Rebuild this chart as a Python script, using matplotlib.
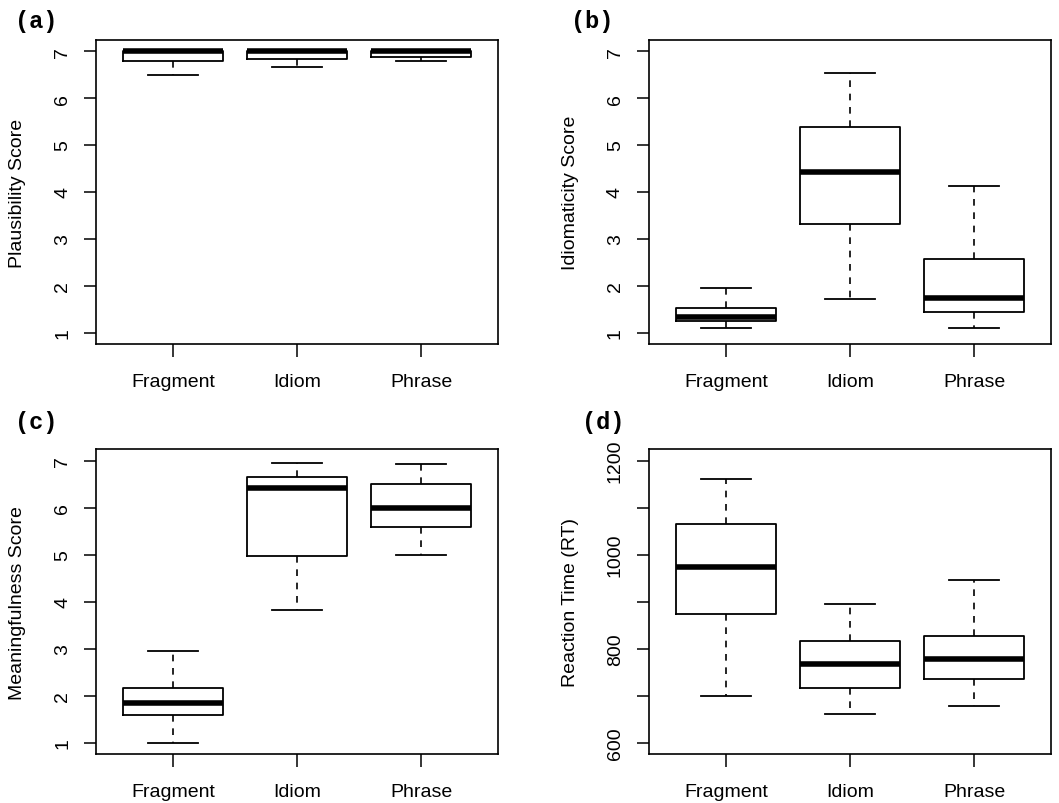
import matplotlib
matplotlib.use("Agg")
import matplotlib.pyplot as plt

plt.rcParams["font.family"] = ["Liberation Sans", "DejaVu Sans"]

groups = ["Fragment", "Idiom", "Phrase"]

# box statistics: lower whisker, Q1, median, Q3, upper whisker
plaus_lo = [6.50, 6.67, 6.80]
plaus_q1 = [6.80, 6.84, 6.88]
plaus_med = [7.00, 7.00, 7.00]
plaus_q3 = [7.00, 7.00, 7.00]
plaus_hi = [7.00, 7.00, 7.00]

idiom_lo = [1.11, 1.71, 1.11]
idiom_q1 = [1.24, 3.31, 1.45]
idiom_med = [1.33, 4.42, 1.74]
idiom_q3 = [1.53, 5.39, 2.57]
idiom_hi = [1.95, 6.53, 4.12]

mean_lo = [1.00, 3.82, 5.00]
mean_q1 = [1.58, 4.98, 5.59]
mean_med = [1.85, 6.42, 6.00]
mean_q3 = [2.17, 6.64, 6.50]
mean_hi = [2.95, 6.95, 6.92]

rt_lo = [700, 660, 677]
rt_q1 = [873, 716, 736]
rt_med = [973, 768, 778]
rt_q3 = [1064, 816, 827]
rt_hi = [1160, 894, 946]

panels = [
    ("(a)", "Plausibility Score", (plaus_lo, plaus_q1, plaus_med, plaus_q3, plaus_hi), (1, 7)),
    ("(b)", "Idiomaticity Score", (idiom_lo, idiom_q1, idiom_med, idiom_q3, idiom_hi), (1, 7)),
    ("(c)", "Meaningfulness Score", (mean_lo, mean_q1, mean_med, mean_q3, mean_hi), (1, 7)),
    ("(d)", "Reaction Time (RT)", (rt_lo, rt_q1, rt_med, rt_q3, rt_hi), (600, 1200)),
]

fig = plt.figure(figsize=(10.59, 8.04), dpi=100)

# axes rectangles in figure fractions (left, bottom, width, height)
rects = [
    (0.0907, 0.571, 0.3796, 0.378),
    (0.6128, 0.571, 0.3796, 0.378),
    (0.0907, 0.061, 0.3796, 0.379),
    (0.6128, 0.061, 0.3796, 0.379),
]
tag_pos = [(0.034, 0.973), (0.559, 0.973), (0.034, 0.475), (0.570, 0.475)]

for (tag, ylab, st, lims), rect, tp in zip(panels, rects, tag_pos):
    ax = fig.add_axes(rect)
    lo, q1, med, q3, hi = st
    stats = []
    for i in range(len(groups)):
        stats.append(dict(whislo=lo[i], q1=q1[i], med=med[i], q3=q3[i],
                          whishi=hi[i], fliers=[], label=groups[i]))
    ax.bxp(stats, positions=[1, 2, 3], widths=0.8, capwidths=0.4,
           showfliers=False,
           boxprops=dict(color="black", lw=1.3),
           whiskerprops=dict(color="black", lw=1.2, linestyle=(0, (4, 4))),
           capprops=dict(color="black", lw=1.3),
           medianprops=dict(color="black", lw=4, solid_capstyle="butt"))

    span = lims[1] - lims[0]
    ax.set_ylim(lims[0] - 0.04 * span, lims[1] + 0.04 * span)
    ax.set_xlim(0.38, 3.62)
    if tag == "(d)":
        ticks = list(range(600, 1201, 100))
        ax.set_yticks(ticks)
        ax.set_yticklabels([str(t) if t % 200 == 0 else "" for t in ticks])
    else:
        ax.set_yticks(range(1, 8))
    ax.set_xticks([1, 2, 3])
    ax.set_xticklabels(groups)

    for s in ax.spines.values():
        s.set_linewidth(1.2)
    ax.tick_params(axis="both", length=9, width=1.1, labelsize=14, color="black")
    ax.tick_params(axis="x", pad=12)
    ax.tick_params(axis="y", pad=9, labelrotation=90)
    for lbl in ax.get_yticklabels():
        lbl.set_va("center")

    ax.set_ylabel(ylab, fontsize=14)
    ax.yaxis.set_label_coords(-0.175, 0.5)

    fig.text(tp[0], tp[1], tag, ha="center", va="center", fontsize=17,
             fontweight="bold", family="Liberation Mono")

fig.savefig("out.png", dpi=100)
